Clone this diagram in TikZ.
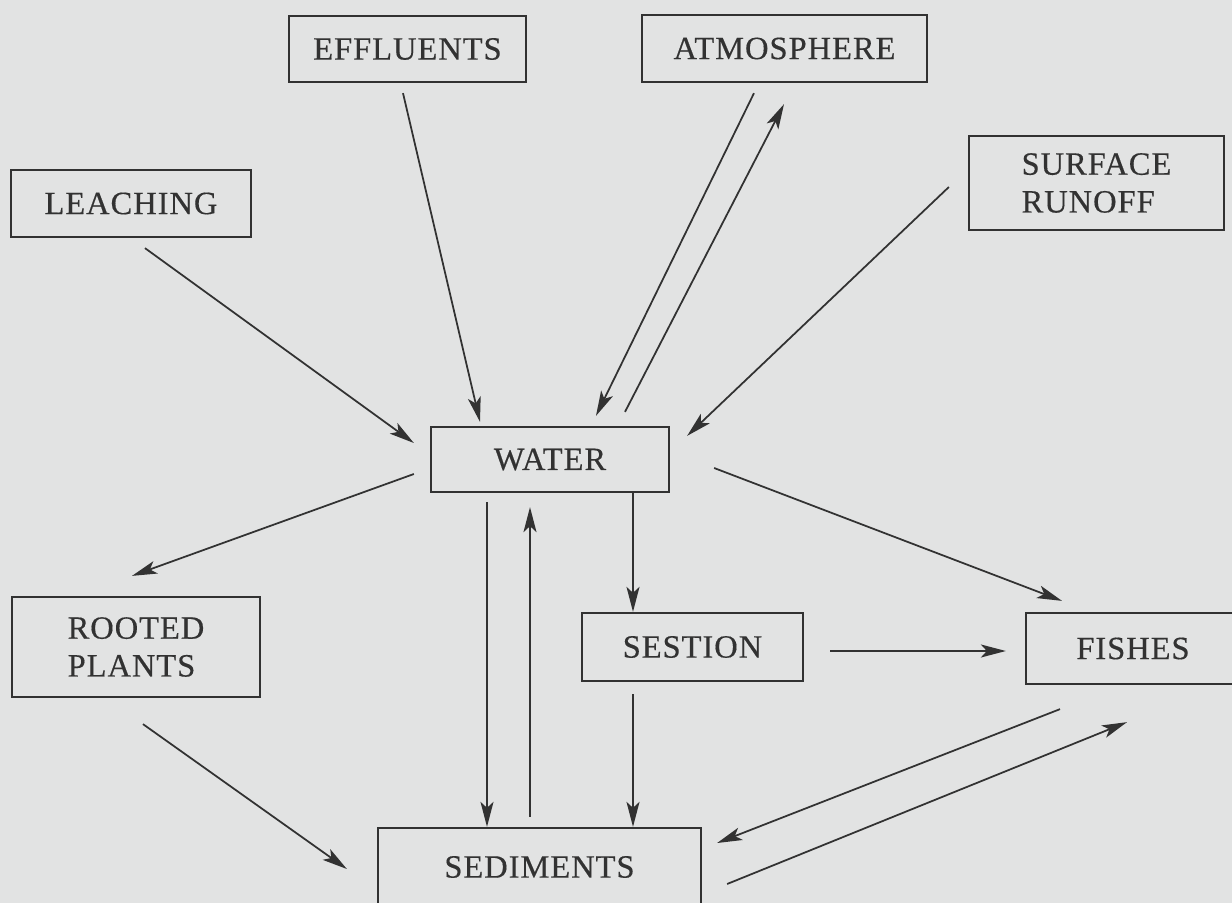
\documentclass[tikz,border=0pt]{standalone}
\usepackage{fontspec}
\setmainfont[LetterSpace=3, FakeBold=0.4]{Liberation Serif}
\usetikzlibrary{arrows.meta}
\definecolor{paper}{RGB}{226,227,227}
\definecolor{ink}{RGB}{50,50,50}
\tikzset{every picture/.append style={x=0.02cm, y=-0.02cm}}
\tikzset{
    box/.style={rectangle, draw=ink, line width=1.3pt, text=ink, inner sep=0pt,
    	align=center, font=\fontsize{18.5}{21.5}\selectfont},
    flow/.style={draw=ink, line width=1pt,
    	-{Stealth[length=5mm, width=2.6mm, inset=1.2mm]}}
}

\begin{document}
\begin{tikzpicture}
  \fill[paper] (0,0) rectangle (1232,903);
  \useasboundingbox (0,0) rectangle (1232,903);
  \clip (0,0) rectangle (1232,903);

  \node (leach) [box, minimum width=4.8cm, minimum height=1.34cm] at (131,203.5) {LEACHING};
  \node (effl) [box, minimum width=4.74cm, minimum height=1.32cm] at (407.5,49) {EFFLUENTS};
  \node (atmo) [box, minimum width=5.7cm, minimum height=1.34cm] at (784.5,48.5) {ATMOSPHERE};
  \node (runoff) [box, align=left, minimum width=5.1cm, minimum height=1.88cm] at (1096.5,183) {SURFACE\\RUNOFF};
  \node (water) [box, minimum width=4.76cm, minimum height=1.3cm] at (550,459.5) {WATER};
  \node (rooted) [box, align=left, minimum width=4.96cm, minimum height=2cm] at (136,647) {ROOTED\\PLANTS};
  \node (sestion) [box, minimum width=4.42cm, minimum height=1.36cm] at (692.5,647) {SESTION};
  \node (fishes) [box, minimum width=4.28cm, minimum height=1.42cm] at (1133,648.5) {FISHES};
  \node (sedim) [box, minimum width=6.46cm, minimum height=1.56cm] at (539.5,867) {SEDIMENTS};

  % inputs to the water
  \draw[flow] ([shift={(14,10)}]leach.south) -- ([shift={(-16,-16.5)}]water.west);
  \draw[flow] ([shift={(-4.5,10)}]effl.south) -- ([shift={(-70,-4)}]water.north);
  \draw[flow] ([shift={(-30.5,10)}]atmo.south) -- ([shift={(46,-10)}]water.north);
  \draw[flow] ([shift={(75,-14)}]water.north) -- ([shift={(-0.5,21)}]atmo.south);
  \draw[flow] ([shift={(-19,4)}]runoff.west) -- ([shift={(17,10)}]water.north east);

  % water and plants
  \draw[flow] ([shift={(-16,14.5)}]water.west) -- ([shift={(-4,-20)}]rooted.north);
  \draw[flow] ([shift={(7,26)}]rooted.south) -- ([shift={(-30,2)}]sedim.west);

  \draw[flow] ([shift={(-63,9)}]water.south) -- ([shift={(-52.5,0)}]sedim.north);
  \draw[flow] ([shift={(-9.5,-10)}]sedim.north) -- ([shift={(-20,14)}]water.south);

  \draw[flow] ([shift={(83,0)}]water.south) -- ([shift={(-59.5,0)}]sestion.north);
  \draw[flow] ([shift={(-59.5,12)}]sestion.south) -- ([shift={(93.5,0)}]sedim.north);

  % fishes
  \draw[flow] ([shift={(26,4)}]sestion.east) -- ([shift={(-19,2.5)}]fishes.west);
  \draw[flow] ([shift={(44,8.5)}]water.east) -- ([shift={(-71,-11)}]fishes.north);
  \draw[flow] ([shift={(-73,24)}]fishes.south) -- ([shift={(15,-24)}]sedim.east);
  \draw[flow] ([shift={(25,17)}]sedim.east) -- ([shift={(-6,37)}]fishes.south);
\end{tikzpicture}
\end{document}
